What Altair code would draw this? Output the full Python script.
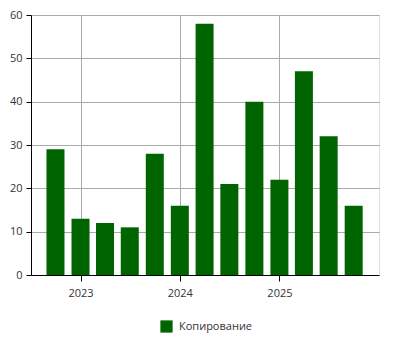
import altair as alt
import pandas as pd

dates = ["2022-10-01", "2023-01-01", "2023-04-01", "2023-07-01", "2023-10-01",
         "2024-01-01", "2024-04-01", "2024-07-01", "2024-10-01",
         "2025-01-01", "2025-04-01", "2025-07-01", "2025-10-01"]
values = [29, 13, 12, 11, 28, 16, 58, 21, 40, 22, 47, 32, 16]
series = ["Копирование"] * len(dates)
year_ticks = [2023, 2024, 2025]

df = pd.DataFrame({"date": dates, "value": values, "series": series})

FONT = "Open Sans"

chart = alt.Chart(df).mark_bar(size=18).encode(
    x=alt.X("date:T",
            scale=alt.Scale(type="utc", nice=False, padding=0,
                            domain=[alt.DateTime(year=2022, month=7, date=3, utc=True),
                                    alt.DateTime(year=2026, month=1, date=2, utc=True)]),
            axis=alt.Axis(title=None, format="%Y", formatType="utc",
                          values=[alt.DateTime(year=y, month=1, date=1, utc=True) for y in year_ticks],
                          grid=True, gridColor="#aaaaaa", domainColor="black",
                          tickColor="black", tickSize=6, labelPadding=6,
                          labelFont=FONT, labelFontSize=11, labelColor="#333333")),
    y=alt.Y("value:Q",
            scale=alt.Scale(domain=[0, 60], nice=False),
            axis=alt.Axis(title=None, values=[0, 10, 20, 30, 40, 50, 60],
                          grid=True, gridColor="#aaaaaa", domainColor="black",
                          tickColor="black", tickSize=5, labelPadding=4,
                          labelFont=FONT, labelFontSize=11, labelColor="#333333")),
    color=alt.Color("series:N",
                    scale=alt.Scale(domain=["Копирование"], range=["#006400"]),
                    legend=alt.Legend(title=None, orient="none", legendX=129, legendY=305,
                                      symbolType="square", symbolSize=150,
                                      symbolStrokeWidth=0, padding=0, labelOffset=6,
                                      labelFont=FONT, labelFontSize=11,
                                      labelColor="#333333")),
).properties(
    width=348, height=260,
    autosize=alt.AutoSizeParams(type="none"),
    padding={"left": 31, "top": 15, "right": 21, "bottom": 75},
).configure_view(
    fill="#eeeeee", stroke="black", strokeWidth=1.5
).configure(background="white")

chart.save("out.html", embed_options={"renderer": "svg", "actions": False})
